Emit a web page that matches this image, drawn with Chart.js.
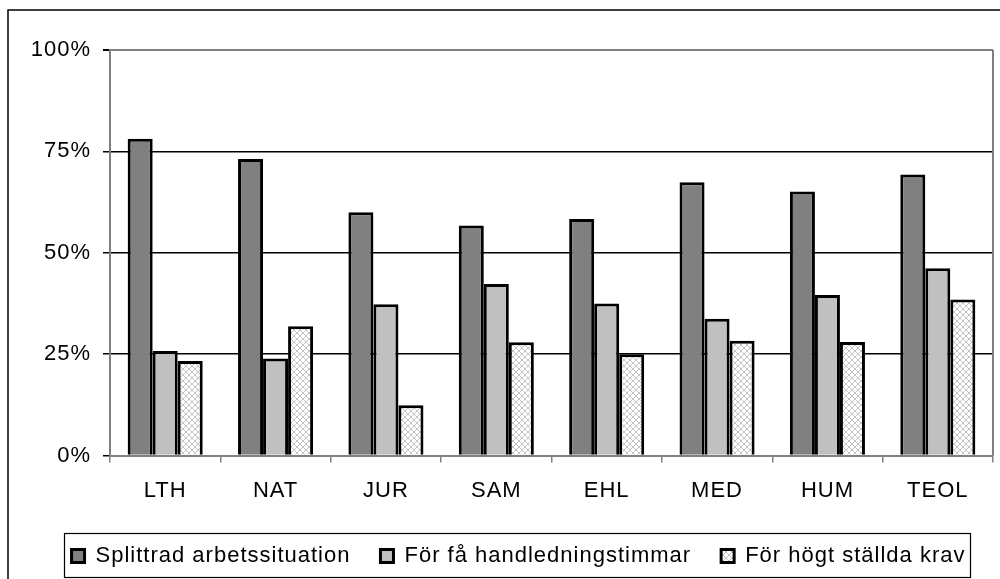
<!DOCTYPE html>
<html>
<head>
<meta charset="utf-8">
<script src="https://cdn.jsdelivr.net/npm/chart.js@4.4.1/dist/chart.umd.min.js"></script>
<style>
  html, body { margin: 0; padding: 0; background: #fff; }
  #wrap { width: 1000px; height: 579px; position: relative; }
</style>
</head>
<body>
<div id="wrap"><canvas id="myChart" width="1000" height="579"></canvas></div>
<script>
// faculties
const categories = ['LTH', 'NAT', 'JUR', 'SAM', 'EHL', 'MED', 'HUM', 'TEOL']
const seriesNames = ['Splittrad arbetssituation', 'För få handledningstimmar', 'För högt ställda krav']
// share of answers in percent
const splittrad = [78.1, 73.1, 60.0, 56.7, 58.3, 67.4, 65.1, 69.3]
const handledning = [25.8, 23.9, 37.3, 42.3, 37.5, 33.7, 39.6, 46.2]
const krav = [23.3, 31.9, 12.4, 27.9, 25.0, 28.3, 28.0, 38.5]
const yTicks = [0, 25, 50, 75, 100]

const FONT = { family: 'Liberation Sans, Arial', size: 22 }
const LEGEND_PAD = 30

// light cross hatch fill for the third series
const makeHatch = () => {
  const c = document.createElement('canvas')
  c.width = 6
  c.height = 6
  const g = c.getContext('2d')
  g.fillStyle = '#ffffff'
  g.fillRect(0, 0, 6, 6)
  g.strokeStyle = '#c4c4c4'
  g.lineWidth = 1
  g.beginPath()
  g.moveTo(0, 0); g.lineTo(6, 6)
  g.moveTo(6, 0); g.lineTo(0, 6)
  g.stroke()
  return g.createPattern(c, 'repeat')
}
const hatch = makeHatch()

// the reference text is a bit wider than Liberation Sans
const spacing = chart => { chart.ctx.letterSpacing = '1px' }

const frame = {
  id: 'frame',
  beforeInit(chart) {
    spacing(chart)
    // legend: fixed height, items pulled up into the box
    const lg = chart.legend
    const fit = lg.fit
    lg.fit = function() {
      const w = this.maxWidth
      this.maxWidth = 1000
      fit.call(this)
      this.maxWidth = w
      this.height = 46
    }
    const draw = lg.draw
    lg.draw = function() {
      const t = this.top, l = this.left, r = this.right
      this.top = t - LEGEND_PAD + 12
      this.left = l + 22
      this.right = r + 22
      draw.call(this)
      this.top = t
      this.left = l
      this.right = r
    }
  },
  beforeUpdate: spacing,
  beforeDraw: spacing,
  afterDraw(chart) {
    const ctx = chart.ctx
    const a = chart.chartArea
    ctx.save()
    // outer frame (only top and left visible)
    ctx.strokeStyle = '#000'
    ctx.lineWidth = 1.5
    ctx.beginPath()
    ctx.moveTo(8, 579)
    ctx.lineTo(8, 10)
    ctx.lineTo(1000, 10)
    ctx.stroke()
    // plot area right border
    ctx.strokeStyle = '#808080'
    ctx.lineWidth = 2
    ctx.beginPath()
    ctx.moveTo(a.right, a.top)
    ctx.lineTo(a.right, a.bottom)
    ctx.stroke()
    // legend box
    ctx.strokeStyle = '#000'
    ctx.lineWidth = 1.2
    ctx.strokeRect(64.5, 533.5, 906, 44)
    ctx.restore()
  }
}

const ctx = document.getElementById('myChart')
const myBarChart = new Chart(ctx, {
  type: 'bar',
  data: {
    labels: categories,
    datasets: [
      { label: seriesNames[0], data: splittrad, backgroundColor: '#808080' },
      { label: seriesNames[1], data: handledning, backgroundColor: '#c0c0c0' },
      { label: seriesNames[2], data: krav, backgroundColor: hatch }
    ]
  },
  options: {
    responsive: false,
    animation: false,
    layout: { padding: { left: 0, right: 7, top: 50, bottom: 0 } },
    datasets: {
      bar: {
        borderColor: '#000',
        borderWidth: 3,
        categoryPercentage: 0.68,
        barPercentage: 1.0
      }
    },
    plugins: {
      tooltip: { enabled: false },
      title: { display: false },
      legend: {
        position: 'bottom',
        labels: {
          color: '#000',
          font: FONT,
          boxWidth: 13,
          boxHeight: 13,
          padding: LEGEND_PAD,
          useBorderRadius: false
        }
      }
    },
    scales: {
      x: {
        grid: {
          drawOnChartArea: false,
          drawTicks: true,
          tickLength: 7,
          color: '#808080',
          lineWidth: 1.5
        },
        border: { color: '#808080', width: 2 },
        ticks: {
          color: '#000',
          padding: 15,
          font: FONT
        },
        afterFit: scale => { scale.height = 77.5 }
      },
      y: {
        min: 0,
        max: 100,
        afterBuildTicks: scale => {
          scale.ticks = yTicks.map(v => ({ value: v }))
        },
        grid: {
          color: c => (c.tick && (c.tick.value === 100 || c.tick.value === 0) ? '#808080' : '#000'),
          lineWidth: c => (c.tick && c.tick.value === 100 ? 2 : 1.5),
          tickLength: 7,
          tickColor: '#000'
        },
        border: { color: '#808080', width: 2 },
        ticks: {
          color: '#000',
          padding: 12,
          font: FONT,
          callback: v => v + '%'
        },
        afterFit: scale => { scale.width = 110 }
      }
    }
  },
  plugins: [frame]
})
</script>
</body>
</html>
